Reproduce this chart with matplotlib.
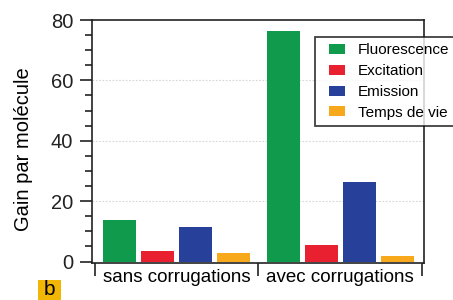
import matplotlib
matplotlib.use("Agg")
import matplotlib.pyplot as plt
from matplotlib.lines import Line2D
from matplotlib.patches import Rectangle
from matplotlib.ticker import MultipleLocator
import numpy as np

plt.rcParams['font.family'] = ['Liberation Sans', 'DejaVu Sans']

# data
categories = ['sans corrugations', 'avec corrugations']
series = ['Fluorescence', 'Excitation', 'Emission', 'Temps de vie']
fluorescence = [13.8, 76.2]
excitation = [3.5, 5.5]
emission = [11.3, 26.5]
temps_de_vie = [2.9, 2.0]
colors = ['#0f9b4b', '#e8202f', '#27409a', '#f7a81b']

values = [fluorescence, excitation, emission, temps_de_vie]

fig = plt.figure(figsize=(4.53, 3.0), dpi=100)
ax = fig.add_axes([92/453, 1 - 262.5/300, 332/453, 242.5/300])

x = np.arange(len(categories))
step = 0.2325
width = 0.202
for i, (vals, col) in enumerate(zip(values, colors)):
    ax.bar(x + (i - 1.5) * step, vals, width, color=col, zorder=3)

ax.set_xlim(-0.518, 1.512)
ax.set_ylim(-0.3, 80)

# dotted grid
for g in [20, 40, 60]:
    ax.axhline(g, color='#d6d6d6', ls=(0, (1.5, 1.5)), lw=0.8, zorder=1)

for s in ax.spines.values():
    s.set_linewidth(1.2)
    s.set_color('#222222')

ax.yaxis.set_major_locator(MultipleLocator(20))
ax.yaxis.set_minor_locator(MultipleLocator(5))
ax.tick_params(axis='y', which='major', length=8.5, width=1.2, labelsize=14.5, pad=5, colors='#222222')
ax.tick_params(axis='y', which='minor', length=5, width=1.2, colors='#222222')

ax.set_xticks(x)
ax.set_xticklabels(categories)
ax.set_xticks([-0.5, 0.5, 1.5], minor=True)
ax.tick_params(axis='x', which='major', length=0, labelsize=13.5, pad=5)
ax.tick_params(axis='x', which='minor', length=9.5, width=1.2, colors='#222222')

ax.set_ylabel('Gain par molécule', fontsize=14.5)
ax.yaxis.set_label_coords(-0.178, 0.468)

# legend with flat rectangles as handles
rect = [(-1, -0.6), (1, -0.6), (1, 0.6), (-1, 0.6), (-1, -0.6)]
handles = [Line2D([], [], ls='none', marker=rect, markersize=11, color=c, markeredgewidth=0)
           for c in colors]
leg = ax.legend(handles, series, loc='upper left', bbox_to_anchor=(315/453, 1 - 37/300),
                bbox_transform=fig.transFigure, fontsize=11, frameon=True, fancybox=False,
                labelspacing=0.45, borderpad=0.4, handlelength=2.1, handletextpad=0.3,
                borderaxespad=0)
leg.get_frame().set_edgecolor('#111111')
leg.get_frame().set_linewidth(1.3)
leg.set_zorder(5)

# panel letter
fig.patches.append(Rectangle((38/453, 0), 23/453, 20/300, transform=fig.transFigure,
                             facecolor='#f2b705', edgecolor='none'))
fig.text(49.5/453, 1/300, 'b', ha='center', va='bottom', fontsize=15)

fig.savefig('out.png', dpi=100)
